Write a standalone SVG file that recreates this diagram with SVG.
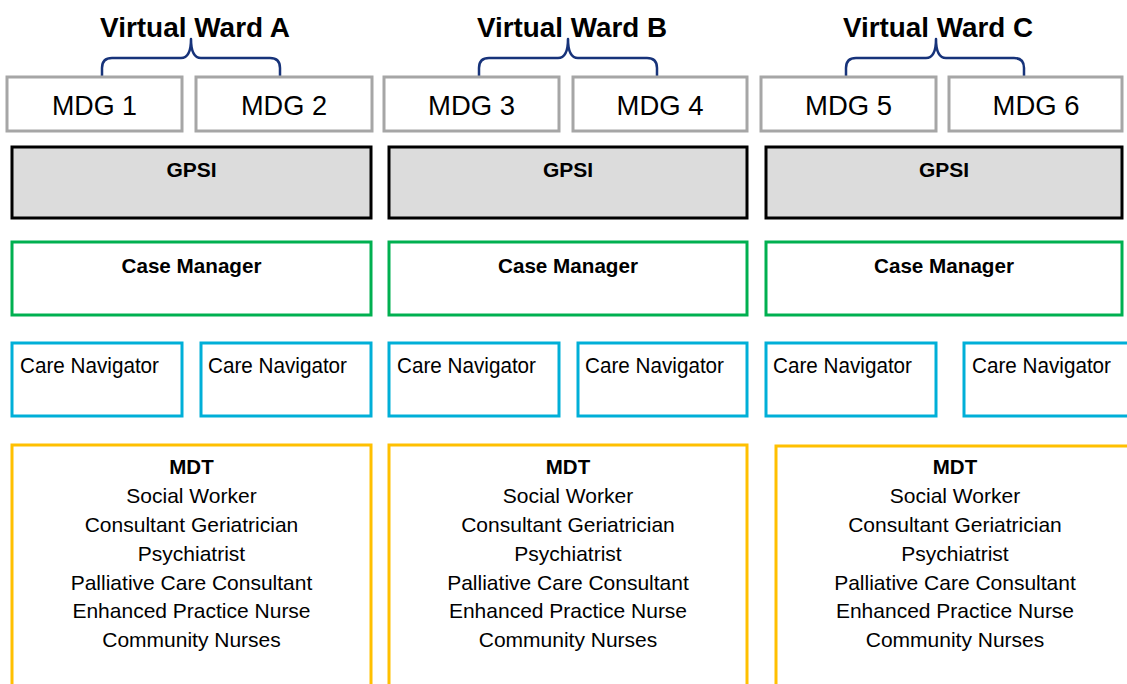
<svg xmlns="http://www.w3.org/2000/svg" width="1127" height="684" viewBox="0 0 1127 684">
<style>
text{font-family:"Liberation Sans",Arial,sans-serif;fill:#000}
.title{font-size:27px;font-weight:bold;text-anchor:middle}
.mdg rect{fill:#fff;stroke:#A6A6A6;stroke-width:3}
.mdg text{font-size:28.5px;text-anchor:middle}
.gpsi rect{fill:#DCDCDC;stroke:#000;stroke-width:3}
.gpsi text,.cm text{font-size:21px;font-weight:bold;text-anchor:middle}
.cm rect{fill:#fff;stroke:#00B050;stroke-width:3}
.cn rect{fill:#fff;stroke:#00AFD8;stroke-width:3}
.cn text{font-size:21.5px}
.mdt rect{fill:#fff;stroke:#FFC000;stroke-width:3}
.mdt text{font-size:21px;text-anchor:middle}
.mdt .h{font-size:20.5px;font-weight:bold}
.brace{fill:none;stroke:#17337A;stroke-width:2.5;stroke-linejoin:round}
</style>
<rect width="1127" height="684" fill="#fff"/>

<g id="titles">
<text class="title" x="195" y="37" textLength="190" lengthAdjust="spacingAndGlyphs">Virtual Ward A</text>
<text class="title" x="572" y="37" textLength="190" lengthAdjust="spacingAndGlyphs">Virtual Ward B</text>
<text class="title" x="938" y="37" textLength="190" lengthAdjust="spacingAndGlyphs">Virtual Ward C</text>
</g>

<g id="connectors">
<path class="brace" d="M102,77 L102,68 Q102,58 112,58 L181,58 Q191,58 191,39 Q191,58 201,58 L270,58 Q280,58 280,68 L280,77"/>
<path class="brace" d="M479,77 L479,68 Q479,58 489,58 L558,58 Q568,58 568,39 Q568,58 578,58 L647,58 Q657,58 657,68 L657,77"/>
<path class="brace" d="M846,77 L846,68 Q846,58 856,58 L926,58 Q936,58 936,39 Q936,58 946,58 L1014,58 Q1024,58 1024,68 L1024,77"/>
</g>

<g id="mdg1" class="mdg"><rect x="7" y="77" width="175" height="54"/><text x="94.5" y="115" textLength="85" lengthAdjust="spacingAndGlyphs">MDG 1</text></g>
<g id="mdg2" class="mdg"><rect x="196" y="77" width="176" height="54"/><text x="284" y="115" textLength="86" lengthAdjust="spacingAndGlyphs">MDG 2</text></g>
<g id="mdg3" class="mdg"><rect x="384" y="77" width="175" height="54"/><text x="471.5" y="115" textLength="87" lengthAdjust="spacingAndGlyphs">MDG 3</text></g>
<g id="mdg4" class="mdg"><rect x="573" y="77" width="174" height="54"/><text x="660" y="115" textLength="87" lengthAdjust="spacingAndGlyphs">MDG 4</text></g>
<g id="mdg5" class="mdg"><rect x="761" y="77" width="175" height="54"/><text x="848.5" y="115" textLength="87" lengthAdjust="spacingAndGlyphs">MDG 5</text></g>
<g id="mdg6" class="mdg"><rect x="949" y="77" width="173" height="54"/><text x="1036" y="115" textLength="87" lengthAdjust="spacingAndGlyphs">MDG 6</text></g>

<g id="gpsiA" class="gpsi"><rect x="12" y="147" width="359" height="71"/><text x="191.5" y="177">GPSI</text></g>
<g id="gpsiB" class="gpsi"><rect x="389" y="147" width="358" height="71"/><text x="568" y="177">GPSI</text></g>
<g id="gpsiC" class="gpsi"><rect x="766" y="147" width="356" height="71"/><text x="944" y="177">GPSI</text></g>

<g id="cmA" class="cm"><rect x="12" y="242" width="359" height="73"/><text x="191.5" y="273" textLength="140" lengthAdjust="spacingAndGlyphs">Case Manager</text></g>
<g id="cmB" class="cm"><rect x="389" y="242" width="358" height="73"/><text x="568" y="273" textLength="140" lengthAdjust="spacingAndGlyphs">Case Manager</text></g>
<g id="cmC" class="cm"><rect x="766" y="242" width="356" height="73"/><text x="944" y="273" textLength="140" lengthAdjust="spacingAndGlyphs">Case Manager</text></g>

<g id="cnA1" class="cn"><rect x="12" y="343" width="170" height="73"/><text x="20" y="373" textLength="139" lengthAdjust="spacingAndGlyphs">Care Navigator</text></g>
<g id="cnA2" class="cn"><rect x="201" y="343" width="170" height="73"/><text x="208" y="373" textLength="139" lengthAdjust="spacingAndGlyphs">Care Navigator</text></g>
<g id="cnB1" class="cn"><rect x="389" y="343" width="170" height="73"/><text x="397" y="373" textLength="139" lengthAdjust="spacingAndGlyphs">Care Navigator</text></g>
<g id="cnB2" class="cn"><rect x="578" y="343" width="169" height="73"/><text x="585" y="373" textLength="139" lengthAdjust="spacingAndGlyphs">Care Navigator</text></g>
<g id="cnC1" class="cn"><rect x="766" y="343" width="170" height="73"/><text x="773" y="373" textLength="139" lengthAdjust="spacingAndGlyphs">Care Navigator</text></g>
<g id="cnC2" class="cn"><rect x="964" y="343" width="170" height="73"/><text x="972" y="373" textLength="139" lengthAdjust="spacingAndGlyphs">Care Navigator</text></g>

<g id="mdtA" class="mdt"><rect x="12" y="445" width="359" height="260"/>
<text class="h" x="191.5" y="474">MDT</text>
<text x="191.5" y="503">Social Worker</text>
<text x="191.5" y="532">Consultant Geriatrician</text>
<text x="191.5" y="561">Psychiatrist</text>
<text x="191.5" y="590">Palliative Care Consultant</text>
<text x="191.5" y="618">Enhanced Practice Nurse</text>
<text x="191.5" y="647">Community Nurses</text>
</g>
<g id="mdtB" class="mdt"><rect x="389" y="445" width="358" height="260"/>
<text class="h" x="568" y="474">MDT</text>
<text x="568" y="503">Social Worker</text>
<text x="568" y="532">Consultant Geriatrician</text>
<text x="568" y="561">Psychiatrist</text>
<text x="568" y="590">Palliative Care Consultant</text>
<text x="568" y="618">Enhanced Practice Nurse</text>
<text x="568" y="647">Community Nurses</text>
</g>
<g id="mdtC" class="mdt"><rect x="776" y="446" width="359" height="260"/>
<text class="h" x="955" y="474">MDT</text>
<text x="955" y="503">Social Worker</text>
<text x="955" y="532">Consultant Geriatrician</text>
<text x="955" y="561">Psychiatrist</text>
<text x="955" y="590">Palliative Care Consultant</text>
<text x="955" y="618">Enhanced Practice Nurse</text>
<text x="955" y="647">Community Nurses</text>
</g>
</svg>
